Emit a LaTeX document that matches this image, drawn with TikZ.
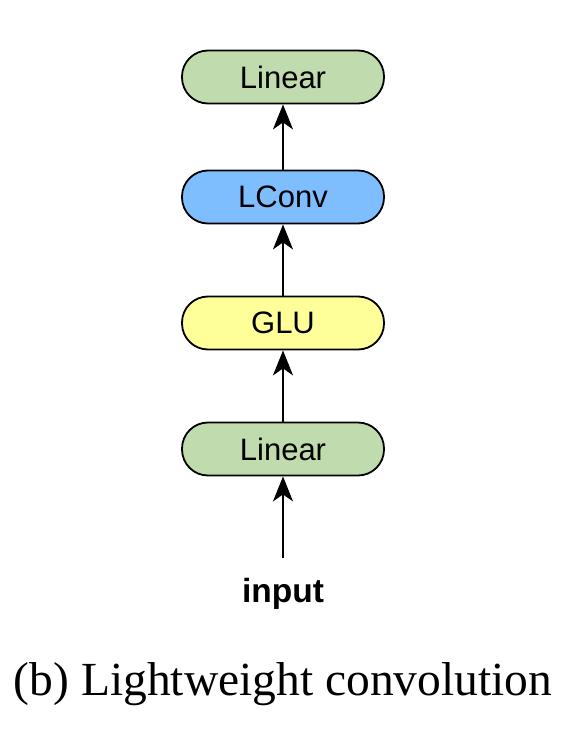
\documentclass[tikz,border=0pt]{standalone}
\usepackage{fontspec}
\setmainfont{Liberation Serif}
\setsansfont{Liberation Sans}
\usetikzlibrary{arrows.meta}
\definecolor{lingreen}{RGB}{192,220,174}
\definecolor{convblue}{RGB}{126,190,255}
\definecolor{gluyellow}{RGB}{255,255,153}
\tikzset{
  blockbox/.style={draw=black, line width=1.8pt, rounded corners=26pt, minimum width=202pt, minimum height=53pt, font=\sffamily\fontsize{31}{31}\selectfont, inner sep=0pt},
  flow/.style={line width=1.8pt, -{Stealth[length=25pt, width=20pt, inset=7pt]}}
}
\begin{document}
\begin{tikzpicture}[x=1pt,y=1pt]
\useasboundingbox (0,0) rectangle (568,-730);
\node[blockbox, fill=lingreen] (lin2) at (283,-77) {Linear};
\node[blockbox, fill=convblue] (lconv) at (283,-197) {LConv};
\node[blockbox, fill=gluyellow] (glu) at (283,-323) {GLU};
\node[blockbox, fill=lingreen] (lin1) at (283,-449) {Linear};
\node[font=\sffamily\bfseries\fontsize{33.5}{33.5}\selectfont, anchor=base] (inp) at (283,-602) {input};
\coordinate (inpstart) at (283,-558);
\node[font=\fontsize{47.5}{47.5}\selectfont, anchor=base] (cap) at (283,-695) {(b) Lightweight convolution};
\draw[flow] (inpstart) -- (lin1.south);
\draw[flow] (lin1.north) -- (glu.south);
\draw[flow] (glu.north) -- (lconv.south);
\draw[flow] (lconv.north) -- (lin2.south);
\end{tikzpicture}
\end{document}
